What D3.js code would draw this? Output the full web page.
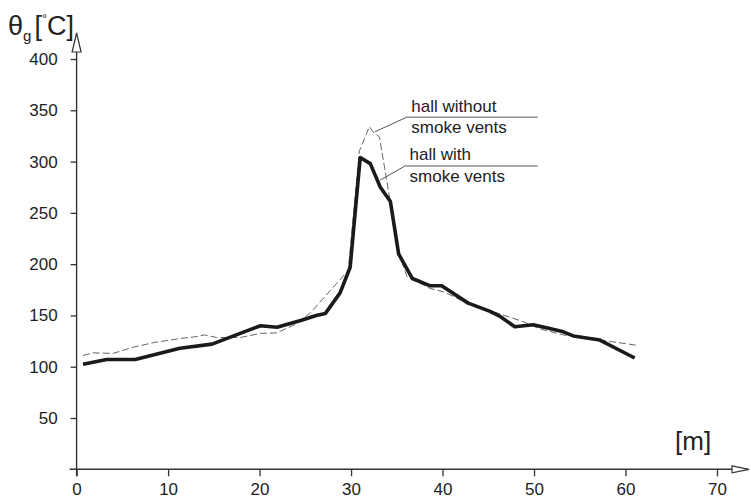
<!DOCTYPE html>
<html>
<head>
<meta charset="utf-8">
<script src="https://cdn.jsdelivr.net/npm/d3@7"></script>
<style>
  body { margin: 0; background: #fff; }
  svg { display: block; font-family: "Liberation Sans", Arial, sans-serif; }
  .tick text { font-size: 17px; fill: #222; }
  .tick line { stroke: #333; stroke-width: 1.3; }
</style>
</head>
<body>
<div id="chart"></div>
<script>
// hall with smoke vents (thick solid)
const withX = [0.7, 3.3, 6.4, 11.3, 14.8, 20.1, 21.9, 24.5, 26.2, 27.2, 28.8, 29.9, 31.0, 32.1, 33.2, 34.3, 35.2, 36.7, 38.6, 39.9, 42.8, 45.2, 46.3, 47.9, 49.9, 51.6, 53.2, 54.3, 57.2, 61.0];
const withT = [102.5, 107, 107, 118, 122, 140, 138.5, 145, 150, 152, 172, 197, 304, 298, 275, 261, 210, 186, 179, 179, 162, 154, 149, 139, 141, 137.5, 134, 130, 126, 108.5];

// hall without smoke vents (thin dashed)
const withoutX = [0.7, 1.8, 4.0, 6.2, 8.4, 11.3, 12.8, 14.0, 15.3, 17.9, 20.1, 21.9, 23.7, 25.5, 29.7, 30.9, 32.0, 32.4, 33.1, 34.3, 35.1, 36.1, 38.6, 40.1, 43.0, 46.6, 48.8, 50.6, 53.2, 57.2, 61.2];
const withoutT = [111, 113.5, 113, 119, 123.5, 127.5, 129, 131, 128.5, 128.5, 132.5, 133, 140.5, 152, 194, 310, 334, 329, 324, 260, 214, 188, 176.5, 173, 161, 150.5, 144, 137, 131, 126, 121];

const xTicks = [0, 10, 20, 30, 40, 50, 60, 70];
const yTicks = [50, 100, 150, 200, 250, 300, 350, 400];

const width = 751, height = 499;

const svg = d3.select("#chart").append("svg")
    .attr("width", width)
    .attr("height", height);

const x = d3.scaleLinear().domain([0, 70]).range([76.6, 717]);
const y = d3.scaleLinear().domain([0, 400]).range([469.3, 59]);

// axes
const xAxis = svg.append("g")
    .attr("transform", `translate(0,${y(0)})`)
    .call(d3.axisBottom(x).tickValues(xTicks).tickSize(7).tickPadding(7));
xAxis.select(".domain").remove();

const yAxis = svg.append("g")
    .attr("transform", `translate(${x(0)},0)`)
    .call(d3.axisLeft(y).tickValues(yTicks).tickSize(6).tickPadding(13));
yAxis.select(".domain").remove();

// axis lines with open arrows
svg.append("line")
    .attr("x1", x(0) - 7).attr("x2", 732)
    .attr("y1", y(0)).attr("y2", y(0))
    .attr("stroke", "#333").attr("stroke-width", 1.4);
svg.append("path")
    .attr("d", `M732,${y(0) - 3.5}L749,${y(0)}L732,${y(0) + 3.5}Z`)
    .attr("fill", "#fff").attr("stroke", "#333").attr("stroke-width", 1.2);

svg.append("line")
    .attr("x1", x(0)).attr("x2", x(0))
    .attr("y1", y(0) + 7).attr("y2", 52)
    .attr("stroke", "#333").attr("stroke-width", 1.4);
svg.append("path")
    .attr("d", `M${x(0) - 4.5},52L${x(0)},33L${x(0) + 4.5},52Z`)
    .attr("fill", "#fff").attr("stroke", "#333").attr("stroke-width", 1.2);

// series
const line = d3.line().x(d => x(d[0])).y(d => y(d[1]));

svg.append("path")
    .datum(d3.zip(withoutX, withoutT))
    .attr("d", line)
    .attr("fill", "none")
    .attr("stroke", "#666")
    .attr("stroke-width", 1)
    .attr("stroke-dasharray", "7,3");

svg.append("path")
    .datum(d3.zip(withX, withT))
    .attr("d", line)
    .attr("fill", "none")
    .attr("stroke", "#1a1a1a")
    .attr("stroke-width", 3.6)
    .attr("stroke-linejoin", "round");

// annotations (leader lines in data units)
const notes = [
    { from: [32.6, 329], elbow: [36.1, 343.3], end: 50.4, lines: ["hall without", "smoke vents"] },
    { from: [33.2, 282], elbow: [35.9, 295.7], end: 50.4, lines: ["hall with", "smoke vents"] }
];
notes.forEach(n => {
    svg.append("path")
        .attr("d", `M${x(n.from[0])},${y(n.from[1])}L${x(n.elbow[0])},${y(n.elbow[1])}H${x(n.end)}`)
        .attr("fill", "none")
        .attr("stroke", "#555")
        .attr("stroke-width", 1);
    const tx = x(n.elbow[0]) + 4.5;
    const ty = y(n.elbow[1]);
    svg.append("text").attr("x", tx).attr("y", ty - 5.5)
        .attr("font-size", 17).attr("fill", "#222").text(n.lines[0]);
    svg.append("text").attr("x", tx).attr("y", ty + 16)
        .attr("font-size", 17).attr("fill", "#222").text(n.lines[1]);
});

// axis titles
const yTitle = svg.append("text")
    .attr("x", 8).attr("y", 35)
    .attr("fill", "#222")
    .attr("font-size", 27);
yTitle.append("tspan").text("θ");
yTitle.append("tspan").attr("font-size", 15).attr("dy", 6).text("g");
yTitle.append("tspan").attr("dy", -6).attr("dx", 3).text("[");
yTitle.append("tspan").attr("font-size", 13).attr("dy", -12).text("°");
yTitle.append("tspan").attr("dy", 12).text("C]");

svg.append("text")
    .attr("x", 675).attr("y", 450)
    .attr("fill", "#222")
    .attr("font-size", 26)
    .text("[m]");
</script>
</body>
</html>
